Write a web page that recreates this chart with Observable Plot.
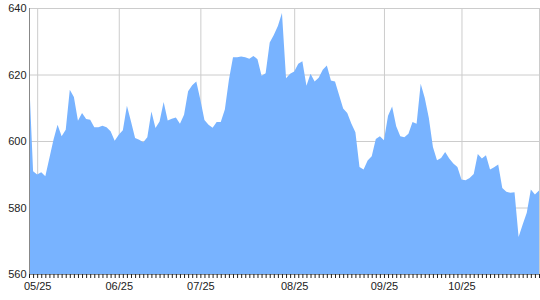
<!DOCTYPE html>
<html>
<head>
<meta charset="utf-8">
<script src="https://cdn.jsdelivr.net/npm/d3@7"></script>
<script src="https://cdn.jsdelivr.net/npm/@observablehq/plot@0.6"></script>
<style>
  html, body { margin: 0; padding: 0; background: #fff; }
</style>
</head>
<body>
<div id="chart"></div>
<script>
const values = [
  619.4, 590.9, 589.9, 590.6, 589.4, 594.9, 600.4, 604.9, 601.4, 603.4,
  615.4, 613.2, 606.1, 608.4, 606.6, 606.4, 604.1, 604.1, 604.6, 604.1,
  602.9, 600.1, 601.9, 603.2, 610.6, 605.9, 600.9, 600.4, 599.6, 601.1,
  608.9, 603.9, 605.9, 611.7, 606.2, 606.7, 607.1, 605.2, 607.9, 615.0,
  616.8, 617.9, 612.4, 606.3, 604.9, 604.0, 605.7, 605.7, 609.5, 618.4,
  625.2, 625.2, 625.4, 625.2, 624.7, 625.6, 624.6, 619.6, 620.4, 629.6,
  631.9, 634.6, 638.5, 618.9, 620.2, 620.9, 623.2, 624.0, 616.6, 620.2,
  617.9, 619.0, 621.4, 622.7, 618.2, 617.9, 613.8, 609.8, 608.4, 605.3,
  602.6, 592.2, 591.4, 594.1, 595.4, 600.6, 601.4, 600.2, 607.6, 610.4,
  604.4, 601.4, 601.1, 602.2, 605.7, 605.2, 617.2, 612.9, 606.9, 598.2,
  594.2, 594.9, 596.7, 594.7, 593.2, 592.2, 588.4, 588.2, 588.9, 590.1,
  596.1, 594.7, 595.7, 591.4, 592.1, 592.9, 585.9, 584.7, 584.4, 584.6,
  571.1, 574.9, 578.4, 585.4, 583.9, 585.1
];
const monthTicks = [2, 22, 42, 65, 87, 106];
const monthLabels = ["05/25", "06/25", "07/25", "08/25", "09/25", "10/25"];
const yTicks = [560, 580, 600, 620, 640];

const data = values.map((v, i) => ({i, v}));
const idx = data.map(d => d.i);
const last = values.length - 1;
const yMin = yTicks[0], yMax = yTicks[yTicks.length - 1];

const chart = Plot.plot({
  width: 540,
  height: 300,
  marginLeft: 29,
  marginRight: 1,
  marginTop: 8,
  marginBottom: 26,
  style: {fontFamily: "'Liberation Sans', Arial, sans-serif", fontSize: "11px", background: "#fff", color: "#222"},
  x: {domain: [0, last], axis: null, label: null},
  y: {domain: [yMin, yMax], axis: null, label: null},
  marks: [
    Plot.gridY(yTicks, {stroke: "#cccccc", strokeOpacity: 1}),
    Plot.gridX(monthTicks, {stroke: "#cccccc", strokeOpacity: 1}),
    Plot.ruleX([last], {stroke: "#cccccc"}),
    Plot.areaY(data, {x: "i", y1: yMin, y2: "v", fill: "#78b3ff", curve: "linear"}),
    Plot.ruleX([0], {stroke: "#888"}),
    Plot.ruleY([yMin], {stroke: "#888"}),
    Plot.tickX(idx, {x: d => d, stroke: "#222", strokeWidth: 1, insetTop: 266, insetBottom: -4}),
    Plot.axisX({ticks: monthTicks, tickSize: 0, tickPadding: 8, label: null, tickFormat: d => monthLabels[monthTicks.indexOf(d)], fill: "#222"}),
    Plot.axisY({ticks: yTicks, tickSize: 0, tickPadding: 3, label: null, fill: "#222"})
  ]
});
document.getElementById("chart").appendChild(chart);
</script>
</body>
</html>
